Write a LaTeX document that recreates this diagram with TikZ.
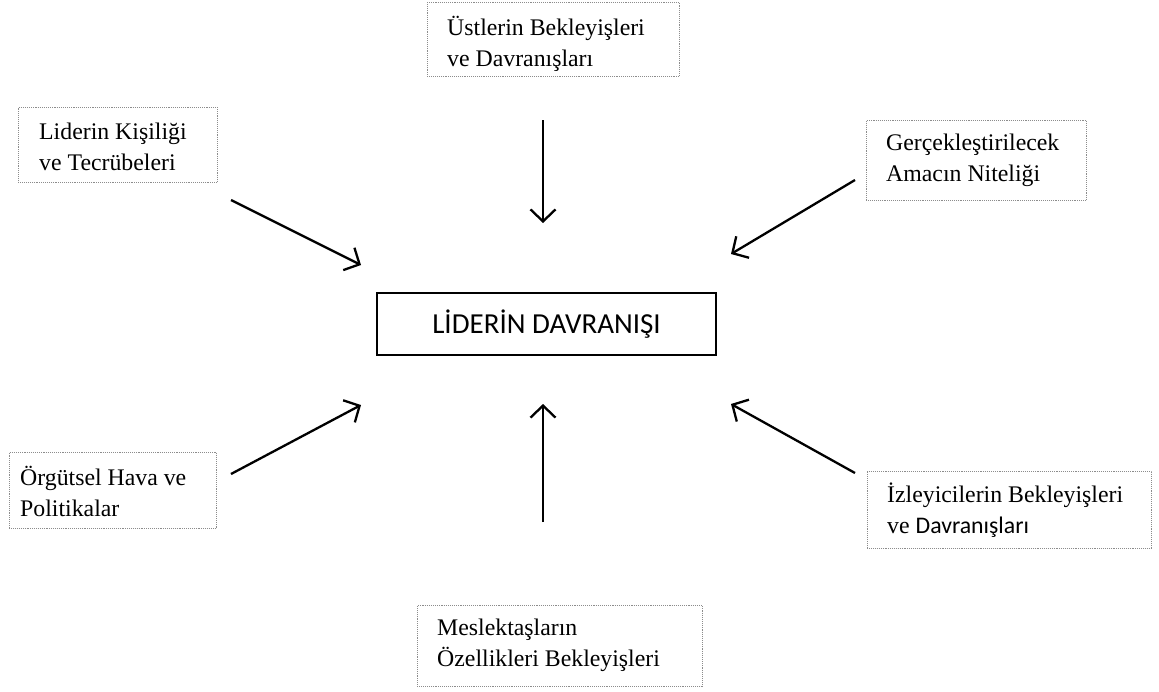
\documentclass[tikz,border=0pt]{standalone}
\usepackage{fontspec}
\setmainfont{Liberation Serif}
\newfontfamily\calib{Carlito}
\usetikzlibrary{arrows.meta}
\begin{document}
\begin{tikzpicture}[x=1pt,y=-1pt,
  sbox/.style={draw=gray!90, densely dotted, line width=0.9pt, anchor=north west, inner sep=0pt},
  stext/.style={anchor=west, align=left, inner sep=0pt, font=\fontsize{23.8}{31}\selectfont},
  cbox/.style={draw=black, line width=2.6pt, minimum width=339pt, minimum height=62pt, font=\calib\fontsize{29}{32}\selectfont},
  arr/.style={line width=2.3pt, -{Straight Barb[length=12pt,width=25pt,line width=2.3pt]}}]
\useasboundingbox (0,0) rectangle (1159,691);
\node[sbox, minimum width=252pt, minimum height=74pt] (ust) at (427,2) {};
\node[stext] (ustt) at (447,44) {Üstlerin Bekleyişleri\\ve Davranışları};
\node[sbox, minimum width=199pt, minimum height=75pt] (lid) at (18,107) {};
\node[stext] (lidt) at (39,147) {Liderin Kişiliği\\ve Tecrübeleri};
\node[sbox, minimum width=220pt, minimum height=80pt] (ger) at (866,120) {};
\node[stext] (gert) at (886,160) {Gerçekleştirilecek\\Amacın Niteliği};
\node[cbox] (mid) at (546.5,324) {LİDERİN DAVRANIŞI};
\node[sbox, minimum width=207pt, minimum height=76pt] (org) at (9,452) {};
\node[stext] (orgt) at (20,491) {Örgütsel Hava ve\\Politikalar};
\node[sbox, minimum width=284pt, minimum height=77pt] (izl) at (867,471) {};
\node[stext] (izlt) at (887,510) {İzleyicilerin Bekleyişleri\\ve {\calib Davranışları}};
\node[sbox, minimum width=285pt, minimum height=81pt] (mes) at (417,605) {};
\node[stext] (mest) at (437,645) {Meslektaşların\\Özellikleri Bekleyişleri};
\coordinate (a1) at (543,120); \coordinate (b1) at (543,223);
\coordinate (a2) at (231,200); \coordinate (b2) at (361,265);
\coordinate (a3) at (855,180); \coordinate (b3) at (731,254);
\coordinate (a4) at (231,474); \coordinate (b4) at (361,405);
\coordinate (a5) at (543,522); \coordinate (b5) at (543,404);
\coordinate (a6) at (855,473); \coordinate (b6) at (731,404);
\draw[arr] (a1) -- (b1);
\draw[arr] (a2) -- (b2);
\draw[arr] (a3) -- (b3);
\draw[arr] (a4) -- (b4);
\draw[arr] (a5) -- (b5);
\draw[arr] (a6) -- (b6);
\end{tikzpicture}
\end{document}
